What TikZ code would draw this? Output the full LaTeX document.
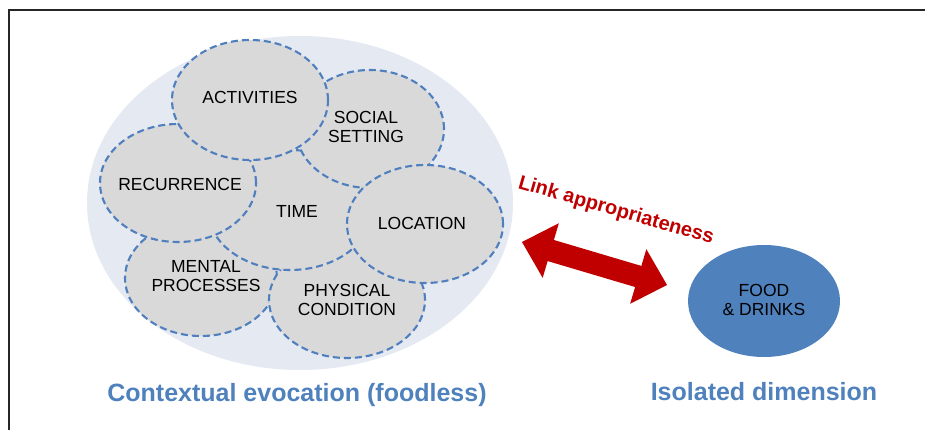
\documentclass[tikz,border=0pt]{standalone}
\usepackage{fontspec}
\setmainfont{Liberation Sans}
\usetikzlibrary{shapes.geometric,calc}
\definecolor{bigfill}{HTML}{E4E9F2}
\definecolor{cellfill}{HTML}{D9D9D9}
\definecolor{dashblue}{HTML}{4F7FBE}
\definecolor{foodblue}{HTML}{4F81BD}
\definecolor{linkred}{HTML}{C00000}
\definecolor{titleblue}{HTML}{4F81BD}
\tikzset{
  cell/.style={ellipse, inner sep=0pt, fill=cellfill, draw=dashblue, line width=2.1pt,
    dash pattern=on 7pt off 4pt},
  celltext/.style={font=\fontsize{17.5}{19.5}\selectfont, align=center, text=black, inner sep=0pt},
  titletext/.style={font=\bfseries\fontsize{25}{29}\selectfont, text=titleblue, inner sep=0pt},
}
\begin{document}
\begin{tikzpicture}[x=1pt,y=-1pt]
\useasboundingbox (0,0) rectangle (925,430);
\fill[white] (0,0) rectangle (925,430);
% frame
\draw[line width=1.4pt, black!85] (9,431) -- (9,10) -- (926,10);
% big ellipse
\node[ellipse, fill=bigfill, minimum width=426pt, minimum height=334pt, inner sep=0pt] (big) at (300,203) {};
% cells (back to front)
\node[cell, minimum width=152pt, minimum height=116pt] (mental) at (201,278) {};
\node[cell, minimum width=156pt, minimum height=116pt] (phys) at (347,300) {};
\node[cell, minimum width=164pt, minimum height=120pt] (time) at (290,210) {};
\node[cell, minimum width=148pt, minimum height=118pt] (social) at (370,129) {};
\node[cell, minimum width=156pt, minimum height=118pt] (recur) at (178,183) {};
\node[cell, minimum width=156pt, minimum height=120pt] (act) at (250,100) {};
\node[cell, minimum width=156pt, minimum height=118pt] (loc) at (425,224) {};
% cell texts
\node[celltext] (tact) at (250,97) {ACTIVITIES};
\node[celltext] (tsoc) at (366,127) {SOCIAL\\SETTING};
\node[celltext] (trec) at (180,184) {RECURRENCE};
\node[celltext] (ttime) at (297,211) {TIME};
\node[celltext] (tloc) at (422,223) {LOCATION};
\node[celltext] (tmen) at (206,276) {MENTAL\\PROCESSES};
\node[celltext] (tphy) at (347,300) {PHYSICAL\\CONDITION};
% food
\node[ellipse, fill=foodblue, minimum width=152pt, minimum height=112pt, inner sep=0pt] (food) at (764,301) {};
\node[celltext] (tfood) at (764,300) {FOOD\\\& DRINKS};
% double arrow
\coordinate (tipL) at (522,242);
\coordinate (tipR) at (667,285);
\coordinate (hL) at ($(tipL)!30pt!(tipR)$);
\coordinate (hR) at ($(tipR)!30pt!(tipL)$);
\fill[linkred] (tipL)
  -- ($(hL)!28.5pt!90:(tipR)$) -- ($(hL)!11pt!90:(tipR)$)
  -- ($(hR)!11pt!-90:(tipL)$) -- ($(hR)!28.5pt!-90:(tipL)$)
  -- (tipR)
  -- ($(hR)!28.5pt!90:(tipL)$) -- ($(hR)!11pt!90:(tipL)$)
  -- ($(hL)!11pt!-90:(tipR)$) -- ($(hL)!28.5pt!-90:(tipR)$)
  -- cycle;
\node[font=\bfseries\fontsize{20}{22}\selectfont, text=linkred, rotate=-16, inner sep=0pt] (link) at (616,211) {Link appropriateness};
% titles
\node[titletext] (t1) at (297,395) {Contextual evocation (foodless)};
\node[titletext] (t2) at (764,392) {Isolated dimension};
\end{tikzpicture}
\end{document}
